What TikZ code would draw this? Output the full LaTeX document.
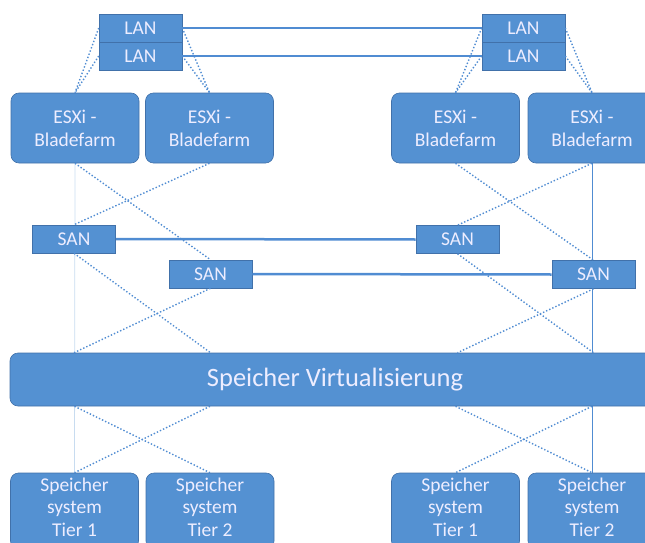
\documentclass[tikz,border=0pt]{standalone}
\usepackage{fontspec}
\setmainfont{Carlito}
\usetikzlibrary{calc, backgrounds}
\definecolor{boxblue}{RGB}{84,145,210}
\definecolor{boxedge}{RGB}{65,113,170}
\definecolor{lineblue}{RGB}{80,140,210}
\definecolor{faintblue}{RGB}{200,220,240}
\tikzset{
    blk/.style={rectangle, fill=boxblue, draw=boxedge, line width=0.6pt, text=white!93!blue,
        align=center, inner sep=0pt, font=\fontsize{19.5}{23}\selectfont},
    rblk/.style={blk, rounded corners=8pt, minimum width=128pt, minimum height=70pt},
    sanblk/.style={blk, minimum width=83pt, minimum height=28pt},
    lanblk/.style={blk, minimum width=83pt, minimum height=28pt},
    tierblk/.style={rblk, minimum height=76pt},
    link/.style={draw=lineblue, line width=2.5pt},
    dotlink/.style={draw=lineblue, line width=1.4pt, dotted},
}

\begin{document}
\begin{tikzpicture}[x=1pt,y=-1pt]
        \useasboundingbox (0,0) rectangle (645,543);
        % LAN
            \node[lanblk] (lanA1) at (140.5,28) {LAN};
            \node[lanblk] (lanA2) at (140.5,56) {LAN};
            \node[lanblk] (lanB1) at (523.5,28) {LAN};
            \node[lanblk] (lanB2) at (523.5,56) {LAN};
            \draw[link] (lanA1.east) -- (lanB1.west);
            \draw[link] (lanA2.east) -- (lanB2.west);
        % ESXi
            \node[rblk] (esx1) at (75,128) {ESXi -\\Bladefarm};
            \node[rblk] (esx2) at (209.5,128) {ESXi -\\Bladefarm};
            \node[rblk] (esx3) at (455.5,128) {ESXi -\\Bladefarm};
            \node[rblk] (esx4) at (592,128) {ESXi -\\Bladefarm};
            \foreach \l in {lanA1,lanA2} {
                \draw[dotlink] (\l.west) -- (esx1.north);
                \draw[dotlink] (\l.east) -- (esx2.north);
            }
            \foreach \l in {lanB1,lanB2} {
                \draw[dotlink] (\l.west) -- (esx3.north);
                \draw[dotlink] (\l.east) -- (esx4.north);
            }
        % SAN
            \node[sanblk] (san1) at (74,239) {SAN};
            \node[sanblk] (san2) at (210.5,274) {SAN};
            \node[sanblk] (san3) at (457.5,239.5) {SAN};
            \node[sanblk] (san4) at (593.5,274.5) {SAN};
            \draw[link] (san1.east) -- (san3.west);
            \draw[link] (san2.east) -- (san4.west);
            \draw[dotlink] (esx1.south) -- (san2.north);
            \draw[dotlink] (esx2.south) -- (san1.north);
            \draw[dotlink] (esx3.south) -- (san4.north);
            \draw[dotlink] (esx4.south) -- (san3.north);
        % Virtualisierung
            \node[blk, rounded corners=8pt, minimum width=650pt, minimum height=53pt,
                font=\fontsize{26.5}{30}\selectfont] (virt) at (335,379.5) {Speicher Virtualisierung};
            \draw[dotlink] (san1.south) -- (san2 |- virt.north);
            \draw[dotlink] (san2.south) -- (san1 |- virt.north);
            \draw[dotlink] (san3.south) -- (san4 |- virt.north);
            \draw[dotlink] (san4.south) -- (san3 |- virt.north);
        % Speicher
            \node[tierblk] (tier1) at (74.5,511) {};
            \node[tierblk] (tier2) at (210,511) {};
            \node[tierblk] (tier3) at (455.5,511) {};
            \node[tierblk] (tier4) at (592,511) {};
            \foreach \t/\n in {tier1/1,tier2/2,tier3/1,tier4/2}
                \node[text=white!93!blue, align=center, font=\fontsize{19.5}{22.5}\selectfont,
                    inner sep=0pt] (\t txt) at ([yshift=4pt]\t.center) {Speicher\\system\\Tier \n};
            \draw[dotlink] (tier1 |- virt.south) -- (tier2.north);
            \draw[dotlink] (tier2 |- virt.south) -- (tier1.north);
            \draw[dotlink] (tier3 |- virt.south) -- (tier4.north);
            \draw[dotlink] (tier4 |- virt.south) -- (tier3.north);
        % durchgehende Linien
            \begin{scope}[on background layer]
                \draw[faintblue, line width=0.8pt] (esx1.south) -- (tier1.north);
                \draw[lineblue, line width=1pt] (esx4.south) -- (tier4.north);
            \end{scope}
        \end{tikzpicture}
\end{document}
